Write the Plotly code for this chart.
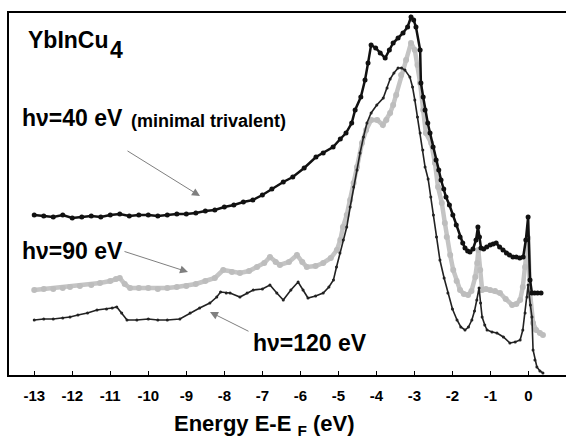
import plotly.graph_objects as go

# ---- data (energy in eV, intensity in arbitrary units) ----
x40 = [-13.0, -12.75, -12.5, -12.25, -12.0, -11.75, -11.5, -11.25, -11.0, -10.75, -10.5, -10.25,
       -10.0, -9.75, -9.5, -9.25, -9.0, -8.75, -8.5, -8.25, -8.0, -7.75, -7.5, -7.25, -7.0,
       -6.75, -6.45, -6.2, -5.9, -5.59, -5.4, -5.14, -4.95, -4.8, -4.65, -4.56, -4.41, -4.3,
       -4.22, -4.14, -4.02, -3.9, -3.77, -3.66, -3.56, -3.43, -3.3, -3.18, -3.09, -3.02, -2.96,
       -2.85, -2.83, -2.77, -2.72, -2.65, -2.59, -2.51, -2.43, -2.36, -2.3, -2.23, -2.17, -2.08,
       -1.99, -1.9, -1.8, -1.73, -1.67, -1.6, -1.54, -1.46, -1.38, -1.33, -1.29, -1.25, -1.18,
       -1.1, -1.01, -0.93, -0.85, -0.76, -0.67, -0.58, -0.5, -0.41, -0.32, -0.23, -0.14, -0.07,
       -0.01, 0.04, 0.09, 0.16, 0.24, 0.33]
y40 = [160, 159, 158, 160, 157, 158, 159, 158, 160, 161, 159, 160,
       160, 159, 160, 161, 161, 162, 164, 165, 168, 170, 173, 175, 180,
       186, 193, 198, 207, 218, 222, 228, 236, 242, 252, 265, 278, 295,
       312, 330, 327, 322, 317, 325, 332, 337, 342, 348, 358, 355, 348,
       325, 292, 278, 265, 252, 242, 228, 215, 205, 195, 186, 178, 170,
       160, 150, 138, 132, 127, 124, 123, 126, 135, 148, 138, 127, 126,
       128, 130, 131, 132, 128, 125, 122, 120, 118, 118, 117, 118, 135,
       158, 95, 82, 82, 82, 82]

x90 = [-13.0, -12.75, -12.5, -12.25, -12.06, -11.8, -11.5, -11.27, -11.0, -10.85, -10.75, -10.62,
       -10.48, -10.25, -10.0, -9.75, -9.5, -9.25, -9.0, -8.75, -8.5, -8.25, -8.03, -7.8, -7.59,
       -7.35, -7.14, -6.95, -6.8, -6.65, -6.54, -6.3, -6.09, -5.95, -5.83, -5.6, -5.4, -5.2,
       -5.04, -4.95, -4.88, -4.78, -4.69, -4.6, -4.51, -4.38, -4.27, -4.14, -3.98, -3.83, -3.74,
       -3.64, -3.56, -3.48, -3.35, -3.22, -3.09, -2.99, -2.92, -2.85, -2.77, -2.7, -2.56, -2.46,
       -2.38, -2.28, -2.2, -2.15, -2.06, -1.98, -1.89, -1.8, -1.7, -1.59, -1.5, -1.4, -1.35,
       -1.32, -1.27, -1.22, -1.12, -1.01, -0.88, -0.75, -0.6, -0.43, -0.32, -0.22, -0.15,
       -0.09, -0.01, 0.04, 0.12, 0.2, 0.3, 0.38]
y90 = [85, 86, 86, 87, 88, 89, 90, 92, 94, 96, 97, 91,
       87, 87, 87, 86, 87, 88, 89, 91, 94, 97, 105, 103, 102,
       104, 108, 112, 118, 113, 110, 113, 120, 113, 108, 109, 112, 117,
       125, 135, 148, 160, 175, 192, 208, 232, 245, 255, 255, 250, 255,
       262, 270, 280, 300, 315, 332, 325, 310, 292, 265, 242, 232, 212,
       188, 172, 152, 138, 120, 105, 94, 85, 81, 80, 84, 98, 112,
       125, 105, 85, 86, 85, 84, 82, 76, 70, 71, 75, 88,
       108, 137, 82, 52, 45, 42, 40]

x120 = [-13.0, -12.75, -12.5, -12.25, -12.06, -11.85, -11.6, -11.35, -11.1, -10.95, -10.83, -10.7,
        -10.56, -10.3, -10.0, -9.75, -9.5, -9.17, -8.9, -8.65, -8.38, -8.2, -8.1, -7.95, -7.85,
        -7.59, -7.4, -7.24, -7.0, -6.8, -6.62, -6.45, -6.25, -6.06, -5.93, -5.8, -5.6, -5.4,
        -5.25, -5.13, -5.05, -4.96, -4.87, -4.78, -4.69, -4.6, -4.51, -4.43, -4.34, -4.25, -4.14,
        -3.99, -3.82, -3.72, -3.64, -3.54, -3.43, -3.34, -3.25, -3.12, -3.05, -2.99, -2.92, -2.85,
        -2.78, -2.72, -2.64, -2.57, -2.5, -2.42, -2.33, -2.22, -2.12, -2.0, -1.88, -1.78, -1.67,
        -1.58, -1.49, -1.42, -1.36, -1.3, -1.26, -1.22, -1.15, -1.09, -0.96, -0.83, -0.66,
        -0.49, -0.35, -0.22, -0.15, -0.09, -0.04, -0.01, 0.05, 0.09, 0.12, 0.17, 0.22, 0.3, 0.38]
y120 = [55, 56, 56, 57, 58, 60, 62, 65, 66, 67, 68, 62,
        55, 55, 56, 55, 55, 56, 62, 67, 72, 78, 83, 82, 82,
        78, 82, 85, 86, 90, 82, 75, 85, 93, 85, 77, 79, 82,
        88, 95, 108, 122, 135, 148, 168, 188, 205, 222, 238, 252, 262,
        270, 277, 287, 296, 302, 307, 307, 305, 298, 288, 275, 258, 242,
        225, 208, 196, 178, 160, 138, 115, 97, 82, 66, 55, 48, 45,
        48, 55, 64, 75, 87, 72, 58, 50, 45, 43, 42, 38,
        32, 33, 35, 45, 62, 78, 90, 70, 58, 25, 15, 8, 4, 2]

tick_vals = list(range(-13, 1))
tick_text = [str(v) for v in tick_vals]

# ---- pixel geometry helpers for annotations ----
X0_PX, PX_PER_EV = 528.5, 38.02
BASE_PX, TOP_PX = 375, 13
LEFT_PX, RIGHT_PX = 9, 566


def px2x(px):
    return (px - X0_PX) / PX_PER_EV


def py2y(py):
    return BASE_PX - py


def py2paper(py):
    return (BASE_PX - py) / (BASE_PX - TOP_PX)


def px2paper(px):
    return (px - LEFT_PX) / (RIGHT_PX - LEFT_PX)


FONT = "Liberation Sans"

fig = go.Figure()
fig.add_trace(go.Scatter(x=x90, y=y90, mode="lines+markers", name="hν=90 eV",
                         line=dict(color="#c4c4c4", width=4.5),
                         marker=dict(color="#bdbdbd", size=6)))
fig.add_trace(go.Scatter(x=x40, y=y40, mode="lines+markers", name="hν=40 eV",
                         line=dict(color="#111111", width=2.5),
                         marker=dict(color="#111111", size=5)))
fig.add_trace(go.Scatter(x=x120, y=y120, mode="lines+markers", name="hν=120 eV",
                         line=dict(color="#222222", width=1.6),
                         marker=dict(color="#222222", size=3)))

annotations = []


def text_ann(txt, left_px, cy_px, size):
    annotations.append(dict(x=px2x(left_px), y=py2y(cy_px), xref="x", yref="y", text=txt,
                            showarrow=False, xanchor="left", yanchor="middle",
                            font=dict(family=FONT, size=size, color="black", weight="bold")))


def arrow_ann(x0, y0, x1, y1):
    annotations.append(dict(x=px2x(x1), y=py2y(y1), ax=px2x(x0), ay=py2y(y0),
                            xref="x", yref="y", axref="x", ayref="y", text="",
                            showarrow=True, arrowhead=2, arrowsize=1.6, arrowwidth=1,
                            arrowcolor="#7f7f7f"))


text_ann("YbInCu", 26, 40, 23)
text_ann("4", 108, 50, 23)
text_ann("hν=40 eV", 20, 118, 23)
text_ann("(minimal trivalent)", 129, 121, 18)
text_ann("hν=90 eV", 20, 251, 23)
text_ann("hν=120 eV", 251, 343, 23)
arrow_ann(126, 150, 200, 196)
arrow_ann(123, 251, 188, 272)
arrow_ann(250, 332, 210, 312)

annotations.append(dict(x=px2paper(264), y=py2paper(425), xref="paper", yref="paper",
                        text="Energy E-E <sub>F</sub> (eV)", showarrow=False,
                        xanchor="center", yanchor="middle",
                        font=dict(family=FONT, size=22, color="black", weight="bold")))

fig.update_layout(
    width=566, height=438,
    margin=dict(l=LEFT_PX, r=0, t=TOP_PX, b=438 - BASE_PX),
    paper_bgcolor="white", plot_bgcolor="white",
    showlegend=False,
    annotations=annotations,
    xaxis=dict(range=[px2x(LEFT_PX), px2x(RIGHT_PX)], tickvals=tick_vals, ticktext=tick_text,
               showgrid=False, zeroline=False, showline=True, linecolor="black", linewidth=2,
               mirror=True, ticks="inside", ticklen=4, tickcolor="black", tickwidth=1,
               ticklabelstandoff=6,
               tickfont=dict(family=FONT, size=15, color="black", weight="bold")),
    yaxis=dict(range=[0, BASE_PX - TOP_PX], showgrid=False, zeroline=False, showline=True,
               linecolor="black", linewidth=2, showticklabels=False, ticks=""),
)

fig.write_html("out.html")
